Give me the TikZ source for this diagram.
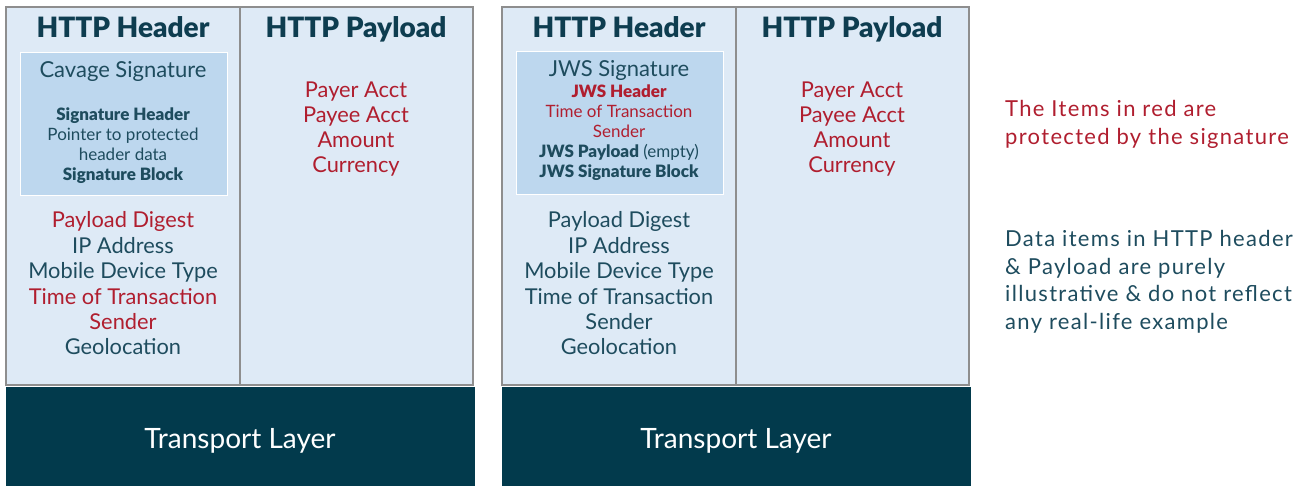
\documentclass[tikz,border=0pt]{standalone}
\usepackage{fontspec}
\setmainfont{Lato}
\newfontfamily\heavyfont{Lato Black}
\newfontfamily\notefont{Lato}[LetterSpace=6]
\usepackage{tikz}
\definecolor{cellFill}{HTML}{DEEAF6}
\definecolor{sigFill}{HTML}{BDD7EE}
\definecolor{cellLine}{HTML}{8E8E8E}
\definecolor{inkTeal}{HTML}{0E3D50}
\definecolor{bodyTeal}{HTML}{1E4C5E}
\definecolor{sigRed}{HTML}{B01E2F}
\definecolor{layerFill}{HTML}{023A4C}
\newcommand{\hv}[1]{{\heavyfont #1}}

\begin{document}
\begin{tikzpicture}[
    x = 1pt, y = -1pt,
    cell/.style = {draw=cellLine, line width=1.4pt, fill=cellFill,
        anchor=north west, inner sep=0pt, outer sep=0pt, minimum height=378pt},
    sigbox/.style = {draw=white, line width=1.4pt, fill=sigFill,
        anchor=north west, inner sep=0pt, minimum width=207pt, minimum height=143pt},
    layer/.style = {fill=layerFill, anchor=north west, inner sep=0pt,
        minimum width=469pt, minimum height=100pt},
    title/.style = {anchor=base, text=inkTeal, font=\fontsize{28}{32}\heavyfont},
    item/.style = {anchor=base, font=\fontsize{21.8}{25}\selectfont},
    small/.style = {anchor=base, font=\fontsize{17}{20}\selectfont},
    sighead/.style = {anchor=base, text=bodyTeal, font=\fontsize{22}{24}\selectfont},
    layertext/.style = {anchor=base, text=white, font=\fontsize{28}{30}\selectfont},
    note/.style = {anchor=base west, inner sep=0pt, font=\fontsize{22}{28}\notefont}
  ]
  \useasboundingbox (0,0) rectangle (1304,486);

  % left stack: cavage signature
  \node[cell, minimum width=234pt] (hdrA) at (6,7) {};
  \node[cell, minimum width=233pt] (payA) at (240,7) {};
  \node[sigbox] (sigA) at (20,52) {};
  \node[layer] (tlA) at (6,387) {};

  \node[title] (titleHA) at (123,38) {HTTP Header};
  \node[title] (titlePA) at (356,38) {HTTP Payload};
  \node[sighead] (cavage) at (123,78) {Cavage Signature};
  \foreach \txt [count=\i from 0] in {\hv{Signature Header}, Pointer to protected,
      header data, \hv{Signature Block}}
    \node[small, text=bodyTeal] (cavA\i) at (123,{120.5+20*\i}) {\txt};
  \foreach \txt/\col [count=\i from 0] in {Payload Digest/sigRed, IP Address/bodyTeal,
      Mobile Device Type/bodyTeal, Time of Transaction/sigRed, Sender/sigRed,
      Geolocation/bodyTeal}
    \node[item, text=\col] (hdrA\i) at (123,{228+25.4*\i}) {\txt};
  \foreach \txt [count=\i from 0] in {Payer Acct, Payee Acct, Amount, Currency}
    \node[item, text=sigRed] (payA\i) at (356,{98+25*\i}) {\txt};
  \node[layertext] (tlAtext) at (240,448) {Transport Layer};

  % right stack: JWS signature
  \node[cell, minimum width=234pt] (hdrB) at (502,7) {};
  \node[cell, minimum width=233pt] (payB) at (736,7) {};
  \node[sigbox] (sigB) at (516,51) {};
  \node[layer] (tlB) at (502,387) {};

  \node[title] (titleHB) at (619,38) {HTTP Header};
  \node[title] (titlePB) at (852,38) {HTTP Payload};
  \node[sighead] (jws) at (619,76.5) {JWS Signature};
  \foreach \txt/\col [count=\i from 0] in {\hv{JWS Header}/sigRed,
      Time of Transaction/sigRed, Sender/sigRed,
      \hv{JWS Payload} (empty)/bodyTeal, \hv{JWS Signature Block}/bodyTeal}
    \node[small, text=\col] (jwsB\i) at (619,{97.3+20*\i}) {\txt};
  \foreach \txt [count=\i from 0] in {Payload Digest, IP Address, Mobile Device Type,
      Time of Transaction, Sender, Geolocation}
    \node[item, text=bodyTeal] (hdrB\i) at (619,{228+25.4*\i}) {\txt};
  \foreach \txt [count=\i from 0] in {Payer Acct, Payee Acct, Amount, Currency}
    \node[item, text=sigRed] (payB\i) at (852,{98+25*\i}) {\txt};
  \node[layertext] (tlBtext) at (736,448) {Transport Layer};

  % side notes
  \foreach \txt [count=\i from 0] in {The Items in red are, protected by the signature}
    \node[note, text=sigRed] (redNote\i) at (1005,{116.7+28.3*\i}) {\txt};
  \foreach \txt [count=\i from 0] in {Data items in HTTP header, \& Payload are purely,
      illustrative \& do not reflect, any real-life example}
    \node[note, text=bodyTeal] (dataNote\i) at (1005,{246.7+27.5*\i}) {\txt};
\end{tikzpicture}
\end{document}
